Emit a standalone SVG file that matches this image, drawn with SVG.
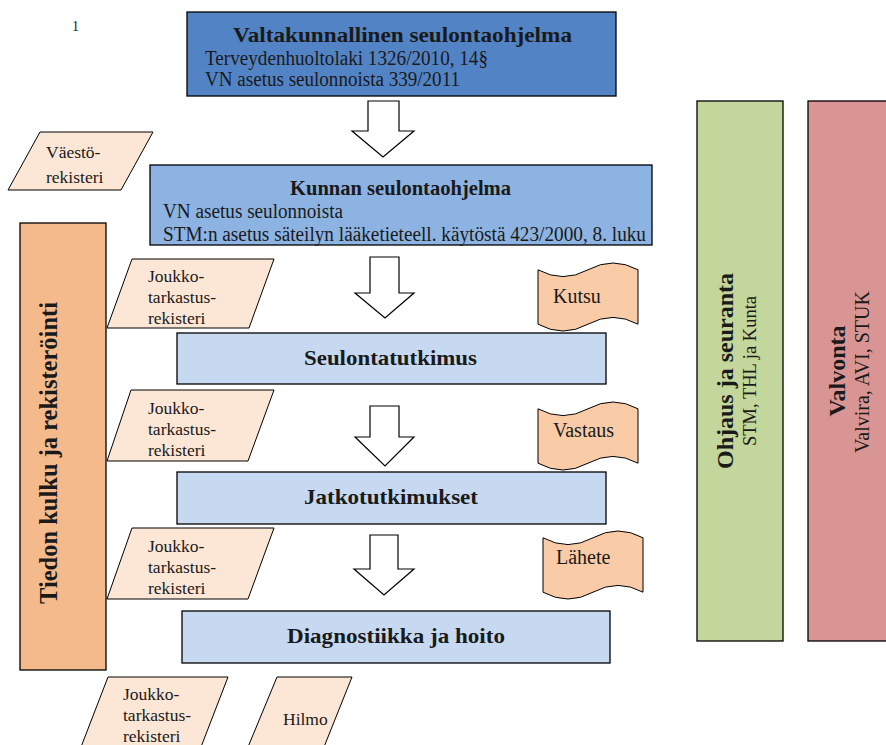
<svg xmlns="http://www.w3.org/2000/svg" width="886" height="745" viewBox="0 0 886 745">
<defs>
<style>
text{font-family:"Liberation Serif","Times New Roman",serif;fill:#1a1a1a}
.b{stroke:#000;stroke-width:1.3}
.t{font-size:22px;font-weight:bold}
.s{font-size:20px}
.r{font-size:17.5px}
.d{font-size:20px}
.para{fill:#FCE6D6;stroke:#000;stroke-width:1}
.doc{fill:#F9CBA7;stroke:#000;stroke-width:1}
.arrow{fill:#fff;stroke:#000;stroke-width:1.2}
</style>
<path id="tape" d="M0,6.8 Q25,20.4 50,6.8 T100,6.8 L100,61.2 Q75,47.6 50,61.2 T0,61.2 Z"/>
</defs>
<rect width="886" height="745" fill="#fff"/>
<text x="72" y="31" style="font-size:14px">1</text>

<g id="connectors">
<path class="arrow" d="M368,101 H399 V131 H414 L383,157 L352,131 H368 Z"/>
<path class="arrow" d="M370,257 H399 V293 H414 L385,318 L355,293 H370 Z"/>
<path class="arrow" d="M370,406 H399 V437 H414 L385,466 L355,437 H370 Z"/>
<path class="arrow" d="M370,535 H398 V569 H414 L384,595 L354,569 H370 Z"/>
</g>

<g id="valtakunnallinen">
<rect class="b" x="187" y="12" width="429" height="84" fill="#5283C4"/>
<text x="233" y="42" class="t" textLength="339" lengthAdjust="spacingAndGlyphs">Valtakunnallinen seulontaohjelma</text>
<text x="205" y="65" class="s" textLength="283" lengthAdjust="spacingAndGlyphs">Terveydenhuoltolaki 1326/2010, 14§</text>
<text x="205" y="86" class="s" textLength="255" lengthAdjust="spacingAndGlyphs">VN asetus seulonnoista 339/2011</text>
</g>

<g id="vaesto">
<polygon class="para" points="8,190 40,132 153,132 121,190"/>
<text x="46" y="158" class="r">Väestö-</text>
<text x="46" y="183" class="r">rekisteri</text>
</g>

<g id="kunnan">
<rect class="b" x="150" y="165" width="502" height="80" fill="#8DB3E2"/>
<text x="290" y="195" class="t" textLength="221" lengthAdjust="spacingAndGlyphs">Kunnan seulontaohjelma</text>
<text x="163" y="218" class="s" textLength="180" lengthAdjust="spacingAndGlyphs">VN asetus seulonnoista</text>
<text x="163" y="241" class="s" textLength="483" lengthAdjust="spacingAndGlyphs">STM:n asetus säteilyn lääketieteell. käytöstä 423/2000, 8. luku</text>
</g>

<g id="tiedon">
<rect class="b" x="20" y="223" width="86" height="447" fill="#F5BA8C"/>
<text transform="translate(57,453) rotate(-90)" text-anchor="middle" class="t" style="font-size:24.5px">Tiedon kulku ja rekisteröinti</text>
</g>

<g id="joukko1">
<polygon class="para" points="107,328 132,259 274,259 249,328"/>
<text x="148" y="282" class="r">Joukko-</text>
<text x="148" y="303" class="r">tarkastus-</text>
<text x="148" y="324" class="r">rekisteri</text>
</g>

<g id="kutsu">
<use href="#tape" class="doc" transform="translate(538,263)"/>
<text x="553" y="303" class="d">Kutsu</text>
</g>

<g id="seulontatutkimus">
<rect class="b" x="177" y="333" width="429" height="51" fill="#C6D9F1"/>
<text x="304" y="365" class="t" textLength="173" lengthAdjust="spacingAndGlyphs">Seulontatutkimus</text>
</g>

<g id="joukko2">
<polygon class="para" points="107,461 131,390 274,390 248,461"/>
<text x="148" y="414" class="r">Joukko-</text>
<text x="148" y="435" class="r">tarkastus-</text>
<text x="148" y="456" class="r">rekisteri</text>
</g>

<g id="vastaus">
<use href="#tape" class="doc" transform="translate(538,402)"/>
<text x="553" y="437" class="d">Vastaus</text>
</g>

<g id="jatkotutkimukset">
<rect class="b" x="177" y="472" width="429" height="52" fill="#C6D9F1"/>
<text x="304" y="504" class="t" textLength="174" lengthAdjust="spacingAndGlyphs">Jatkotutkimukset</text>
</g>

<g id="joukko3">
<polygon class="para" points="107,599 132,528 274,528 248,599"/>
<text x="148" y="552" class="r">Joukko-</text>
<text x="148" y="573" class="r">tarkastus-</text>
<text x="148" y="594" class="r">rekisteri</text>
</g>

<g id="lahete">
<use href="#tape" class="doc" transform="translate(543,531)"/>
<text x="556" y="564" class="d">Lähete</text>
</g>

<g id="diagnostiikka">
<rect class="b" x="182" y="611" width="428" height="52" fill="#C6D9F1"/>
<text x="287" y="643" class="t" textLength="218" lengthAdjust="spacingAndGlyphs">Diagnostiikka ja hoito</text>
</g>

<g id="joukko4">
<polygon class="para" points="81,747 108,677 228,677 201,747"/>
<text x="123" y="700" class="r">Joukko-</text>
<text x="123" y="721" class="r">tarkastus-</text>
<text x="123" y="742" class="r">rekisteri</text>
</g>

<g id="hilmo">
<polygon class="para" points="248,747 277,677 352,677 324,747"/>
<text x="283" y="725" class="d" style="font-size:17.5px">Hilmo</text>
</g>

<g id="ohjaus">
<rect class="b" x="697" y="101" width="86" height="540" fill="#C3D69B"/>
<text transform="translate(733,371) rotate(-90)" text-anchor="middle" class="t" style="font-size:24px">Ohjaus ja seuranta</text>
<text transform="translate(756,371) rotate(-90)" text-anchor="middle" class="s" style="font-size:18.5px">STM, THL ja Kunta</text>
</g>

<g id="valvonta">
<rect class="b" x="808" y="101" width="82" height="540" fill="#D99594"/>
<text transform="translate(845,371) rotate(-90)" text-anchor="middle" class="t" style="font-size:24px">Valvonta</text>
<text transform="translate(869,372) rotate(-90)" text-anchor="middle" class="s">Valvira, AVI, STUK</text>
</g>
</svg>
